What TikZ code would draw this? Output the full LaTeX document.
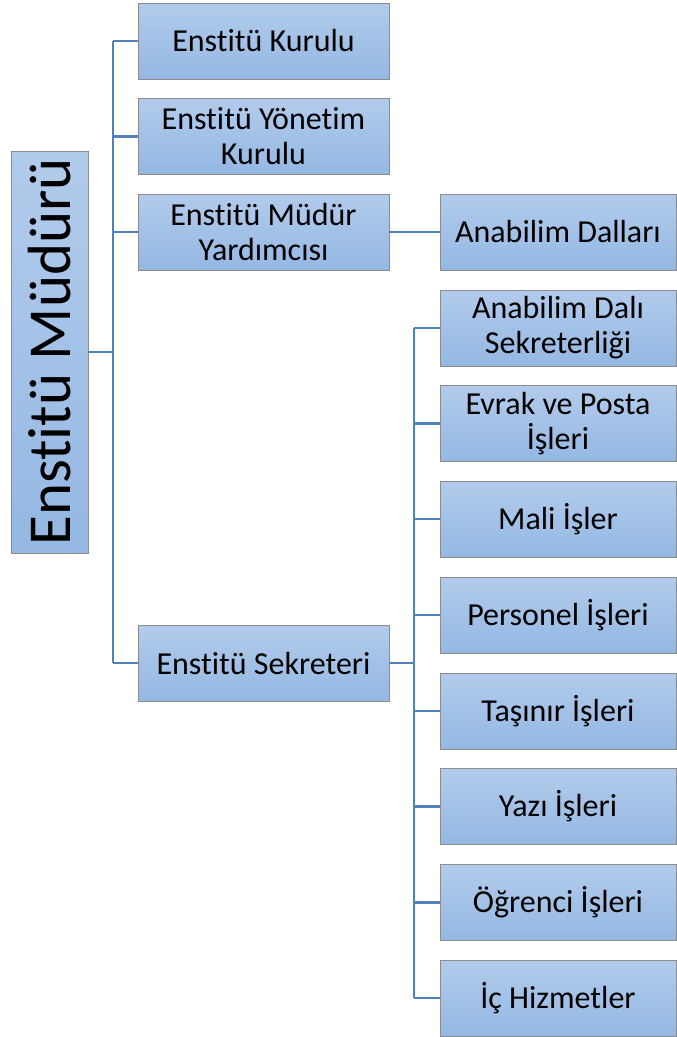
\documentclass[tikz,border=0pt]{standalone}
\usepackage{fontspec}
\setmainfont{Carlito}[Ligatures=NoCommon]
\begin{document}
\begin{tikzpicture}[x=1pt,y=-1pt,
  box/.style={draw=black!45,line width=0.9pt,top color=boxtop,bottom color=boxbot,
    minimum height=76pt,inner sep=2pt,align=center,
    font=\fontsize{32}{35}\selectfont},
  cbox/.style={box,minimum width=251pt},
  rbox/.style={box,minimum width=236pt},
  conn/.style={draw=connc,line width=2.6pt}]
\definecolor{boxtop}{RGB}{178,203,235}
\definecolor{boxbot}{RGB}{148,184,227}
\definecolor{connc}{RGB}{79,129,189}
\useasboundingbox (0,0) rectangle (677,1037);
% root
\node[box,rotate=90,minimum width=402pt,minimum height=77pt,
  font=\fontsize{61}{63}\selectfont] (root) at (49.5,352) {Enstitü Müdürü};
% column 1
\node[cbox] (kur) at (263.5,41) {Enstitü Kurulu};
\node[cbox] (yon) at (263.5,136.5) {Enstitü Yönetim\\Kurulu};
\node[cbox] (myr) at (263.5,232) {Enstitü Müdür\\Yardımcısı};
\node[cbox] (sek) at (263.5,663) {Enstitü Sekreteri};
% column 2
\node[rbox] (abd) at (558,232) {Anabilim Dalları};
\node[rbox] (ads) at (558,328) {Anabilim Dalı\\Sekreterliği};
\node[rbox] (evr) at (558,423.5) {Evrak ve Posta\\İşleri};
\node[rbox] (mal) at (558,519) {Mali İşler};
\node[rbox] (per) at (558,615) {Personel İşleri};
\node[rbox] (tas) at (558,711) {Taşınır İşleri};
\node[rbox] (yaz) at (558,806.5) {Yazı İşleri};
\node[rbox] (ogr) at (558,902.5) {Öğrenci İşleri};
\node[rbox] (ich) at (558,998) {İç Hizmetler};
% connectors from root
\coordinate (t1) at (113,352);
\draw[conn] (root.south) -- (t1);
\draw[conn] (t1 |- kur.west) -- (t1 |- sek.west);
\foreach \n in {kur,yon,myr,sek}{\draw[conn] (t1 |- \n.west) -- (\n.west);}
% Müdür Yardımcısı -> Anabilim Dalları
\draw[conn] (myr.east) -- (abd.west);
% connectors from Sekreter
\coordinate (t2) at (414,663);
\draw[conn] (sek.east) -- (t2);
\draw[conn] (t2 |- ads.west) -- (t2 |- ich.west);
\foreach \n in {ads,evr,mal,per,tas,yaz,ogr,ich}{\draw[conn] (t2 |- \n.west) -- (\n.west);}
\end{tikzpicture}
\end{document}
